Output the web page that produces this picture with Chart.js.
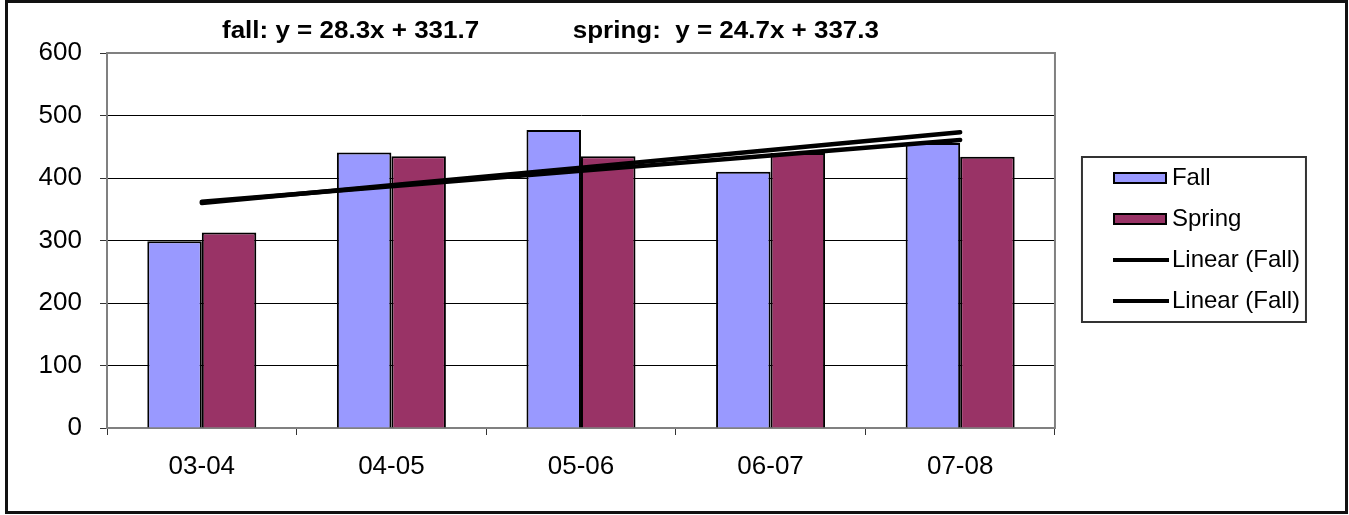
<!DOCTYPE html>
<html>
<head>
<meta charset="utf-8">
<script src="https://cdn.jsdelivr.net/npm/chart.js@4.4.0/dist/chart.umd.min.js"></script>
<style>
	html, body { margin: 0; padding: 0; background: #fff; }
	#wrap { position: relative; width: 1349px; height: 515px; }
</style>
</head>
<body>
<div id="wrap"><canvas id="trend-chart" width="1349" height="515"></canvas></div>
<script>
const years = ['03-04', '04-05', '05-06', '06-07', '07-08'];
const fallValues = [299, 441, 477, 410, 456];
const springValues = [313, 435, 435, 440, 434];
const yTicks = [0, 100, 200, 300, 400, 500, 600];
const fallEquation = 'fall: y = 28.3x + 331.7';
const springEquation = 'spring:  y = 24.7x + 337.3';
const legendNames = ['Fall', 'Spring', 'Linear (Fall)', 'Linear (Fall)'];

const FONT = "'Liberation Sans', Arial, sans-serif";

document.addEventListener('DOMContentLoaded', () => {
	trendChart();
});

// least squares line over x = 1..n, like excel's trendline
function linearTrend(values) {
	const n = values.length;
	let sx = 0, sy = 0, sxy = 0, sxx = 0;
	values.forEach((v, i) => {
		const x = i + 1;
		sx += x; sy += v; sxy += x * v; sxx += x * x;
	});
	const slope = (n * sxy - sx * sy) / (n * sxx - sx * sx);
	const icpt = (sy - slope * sx) / n;
	return values.map((v, i) => slope * (i + 1) + icpt);
}

function swatch(fill, kind) {
	const c = document.createElement('canvas');
	c.width = 112;
	c.height = 14;
	const g = c.getContext('2d');
	if (kind === 'bar') {
		g.fillStyle = fill;
		g.fillRect(54, 2, 52, 10);
		g.strokeStyle = '#000';
		g.lineWidth = 2;
		g.strokeRect(54, 2, 52, 10);
	} else {
		g.fillStyle = '#000';
		g.fillRect(53, 5, 56, 4);
	}
	return c;
}

const decorPlugin = {
	id: 'decor',
	beforeDatasetsDraw(chart) {
		const { ctx, chartArea: a } = chart;
		ctx.save();
		ctx.strokeStyle = '#808080';
		ctx.lineWidth = 2;
		ctx.strokeRect(a.left, a.top, a.right - a.left, a.bottom - a.top);
		ctx.restore();
	},
	afterDraw(chart) {
		const ctx = chart.ctx;
		ctx.save();
		// equations above the plot (excel stretched them a bit wide)
		ctx.fillStyle = '#000';
		ctx.font = 'bold 23px ' + FONT;
		ctx.textBaseline = 'alphabetic';
		ctx.save();
		ctx.scale(1.13, 1);
		ctx.textAlign = 'left';
		ctx.fillText(fallEquation, 222 / 1.13, 38);
		ctx.textAlign = 'right';
		ctx.fillText(springEquation, 879 / 1.13, 38);
		ctx.restore();

		// legend frame
		const hb = chart.legend.legendHitBoxes;
		if (hb && hb.length) {
			const first = hb[0];
			const last = hb[hb.length - 1];
			ctx.strokeStyle = '#333';
			ctx.lineWidth = 2;
			ctx.strokeRect(first.left + 10, first.top - 9, 224, last.top + last.height + 9 - (first.top - 9));
		}

		// outer frame
		ctx.strokeStyle = '#111';
		ctx.lineWidth = 3;
		ctx.strokeRect(6.5, 1.5, 1340, 511);
		ctx.restore();
	},
};

function trendChart() {
	const ctx = document.getElementById('trend-chart');

	if (!ctx) {
		return;
	}

	const swatches = [
		swatch('#9999FF', 'bar'),
		swatch('#993366', 'bar'),
		swatch('#000', 'line'),
		swatch('#000', 'line'),
	];

	new Chart(ctx, {
		type: 'bar',
		data: {
			labels: years,
			datasets: [
				{
					label: legendNames[0],
					data: fallValues,
					backgroundColor: '#9999FF',
					borderColor: '#000',
					borderWidth: 2,
					order: 2,
				},
				{
					label: legendNames[1],
					data: springValues,
					backgroundColor: '#993366',
					borderColor: '#000',
					borderWidth: 2,
					order: 2,
				},
				{
					type: 'line',
					label: legendNames[2],
					data: linearTrend(fallValues),
					borderColor: '#000',
					borderWidth: 4.5,
					pointRadius: 0,
					borderCapStyle: 'round',
					order: 0,
				},
				{
					type: 'line',
					label: legendNames[3],
					data: linearTrend(springValues),
					borderColor: '#000',
					borderWidth: 4.5,
					pointRadius: 0,
					borderCapStyle: 'round',
					order: 1,
				},
			],
		},
		options: {
			responsive: false,
			animation: false,
			devicePixelRatio: 1,
			categoryPercentage: 0.575,
			barPercentage: 1,
			layout: {
				padding: { top: 0, right: 39, bottom: 36, left: 0 },
			},
			plugins: {
				tooltip: { enabled: false },
				title: {
					display: true,
					text: ' ',
					fullSize: false,
					font: { size: 20, lineHeight: 1 },
					padding: { top: 0, bottom: 33 },
				},
				legend: {
					position: 'right',
					labels: {
						usePointStyle: true,
						pointStyleWidth: 88,
						padding: 17,
						color: '#000',
						font: { family: FONT, size: 24 },
						generateLabels: () => legendNames.map((name, i) => ({
							text: name,
							pointStyle: swatches[i],
							datasetIndex: i,
							fontColor: '#000',
							lineWidth: 0,
						})),
					},
				},
			},
			scales: {
				x: {
					afterFit: (scale) => { scale.height = 51; },
					grid: {
						offset: true,
						drawOnChartArea: false,
						tickLength: 7,
						color: '#333',
					},
					border: { color: '#808080', width: 2 },
					ticks: {
						color: '#000',
						padding: 16,
						font: { family: FONT, size: 26 },
					},
				},
				y: {
					min: yTicks[0],
					max: yTicks[yTicks.length - 1],
					afterFit: (scale) => { scale.width = 107; },
					afterBuildTicks: (scale) => { scale.ticks = yTicks.map((v) => ({ value: v })); },
					grid: {
						tickLength: 7,
						tickColor: '#333',
						color: (c) => (c.tick && (c.tick.value === 0 || c.tick.value === 600) ? '#808080' : '#000'),
					},
					border: { color: '#808080', width: 2 },
					ticks: {
						color: '#000',
						padding: 18,
						font: { family: FONT, size: 26 },
					},
				},
			},
		},
		plugins: [decorPlugin],
	});
}
</script>
</body>
</html>
